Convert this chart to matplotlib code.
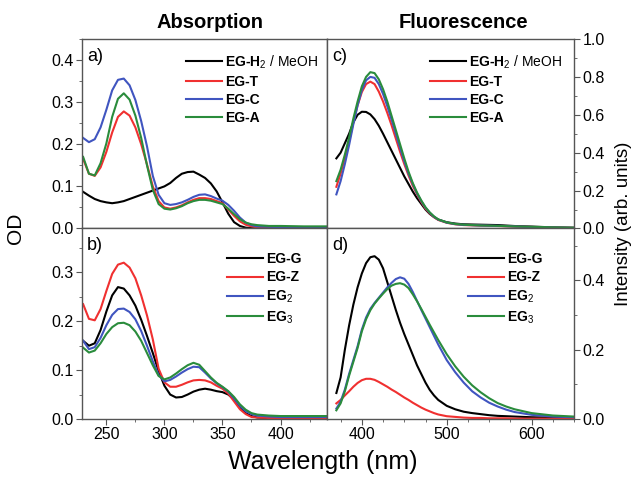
import numpy as np
import matplotlib
matplotlib.use("Agg")
import matplotlib.pyplot as plt
from matplotlib.ticker import MultipleLocator, FormatStrFormatter

plt.rcParams['font.family'] = ['Liberation Sans', 'DejaVu Sans']
plt.rcParams['mathtext.fontset'] = 'custom'
plt.rcParams['mathtext.rm'] = 'Liberation Sans'
plt.rcParams['mathtext.it'] = 'Liberation Sans:italic'
plt.rcParams['mathtext.bf'] = 'Liberation Sans:bold'

# ---- a) absorption, EG-H2 / T / C / A ----
wl_a = [230, 235, 240, 245, 250, 255, 260, 265, 270, 275, 280, 285, 290, 295, 300,
        305, 310, 315, 320, 325, 330, 335, 340, 345, 350, 355, 360, 365, 370, 375,
        380, 390, 400, 420, 440]
a_h2 = [0.087, 0.078, 0.070, 0.065, 0.062, 0.060, 0.062, 0.065, 0.070, 0.075, 0.080,
        0.085, 0.090, 0.095, 0.100, 0.108, 0.120, 0.130, 0.134, 0.135, 0.128, 0.120,
        0.107, 0.088, 0.062, 0.035, 0.015, 0.006, 0.002, 0.001, 0.0, 0.0, 0.0, 0.0, 0.0]
a_t = [0.165, 0.130, 0.125, 0.145, 0.182, 0.228, 0.265, 0.278, 0.268, 0.240, 0.200,
       0.152, 0.100, 0.065, 0.050, 0.047, 0.050, 0.055, 0.062, 0.068, 0.072, 0.072,
       0.070, 0.065, 0.060, 0.045, 0.030, 0.017, 0.009, 0.005, 0.003, 0.002, 0.002, 0.002, 0.002]
a_c = [0.215, 0.205, 0.212, 0.240, 0.282, 0.328, 0.353, 0.356, 0.340, 0.305, 0.255,
       0.195, 0.125, 0.080, 0.060, 0.056, 0.058, 0.062, 0.068, 0.075, 0.080, 0.081,
       0.077, 0.071, 0.066, 0.056, 0.042, 0.026, 0.014, 0.008, 0.005, 0.004, 0.003, 0.002, 0.002]
a_a = [0.170, 0.130, 0.126, 0.155, 0.202, 0.265, 0.308, 0.321, 0.306, 0.268, 0.215,
       0.150, 0.092, 0.058, 0.047, 0.045, 0.048, 0.053, 0.060, 0.065, 0.068, 0.068,
       0.066, 0.062, 0.058, 0.047, 0.034, 0.022, 0.014, 0.010, 0.008, 0.006, 0.006, 0.005, 0.005]

# ---- b) absorption, EG-G / Z / EG2 / EG3 ----
wl_b = wl_a
b_g = [0.160, 0.150, 0.155, 0.182, 0.220, 0.253, 0.270, 0.267, 0.253, 0.232, 0.203,
       0.170, 0.135, 0.098, 0.068, 0.050, 0.044, 0.045, 0.050, 0.056, 0.060, 0.062,
       0.060, 0.057, 0.055, 0.050, 0.040, 0.025, 0.012, 0.006, 0.003, 0.002, 0.002, 0.002, 0.002]
b_z = [0.235, 0.205, 0.202, 0.225, 0.262, 0.297, 0.316, 0.320, 0.310, 0.288, 0.253,
       0.212, 0.163, 0.103, 0.075, 0.066, 0.066, 0.070, 0.075, 0.079, 0.080, 0.079,
       0.075, 0.068, 0.062, 0.052, 0.036, 0.020, 0.010, 0.004, 0.003, 0.002, 0.002, 0.002, 0.002]
b_2 = [0.160, 0.143, 0.147, 0.166, 0.192, 0.213, 0.225, 0.226, 0.219, 0.204, 0.180,
       0.150, 0.118, 0.090, 0.077, 0.080, 0.087, 0.095, 0.102, 0.107, 0.106, 0.095,
       0.083, 0.073, 0.065, 0.056, 0.042, 0.027, 0.016, 0.010, 0.007, 0.005, 0.004, 0.004, 0.004]
b_3 = [0.146, 0.136, 0.140, 0.155, 0.174, 0.188, 0.196, 0.197, 0.192, 0.179, 0.160,
       0.135, 0.110, 0.088, 0.081, 0.085, 0.093, 0.102, 0.110, 0.115, 0.111, 0.098,
       0.085, 0.074, 0.066, 0.057, 0.045, 0.030, 0.019, 0.012, 0.009, 0.007, 0.006, 0.006, 0.006]

# ---- c) fluorescence, EG-H2 / T / C / A ----
wl_c = [370, 375, 380, 385, 390, 395, 400, 405, 410, 415, 420, 425, 430, 435, 440,
        445, 450, 455, 460, 465, 470, 475, 480, 485, 490, 500, 510, 520, 540, 560,
        580, 600, 625, 650]
c_h2 = [0.37, 0.40, 0.45, 0.50, 0.56, 0.60, 0.616, 0.615, 0.602, 0.577, 0.542, 0.500,
        0.455, 0.410, 0.365, 0.320, 0.275, 0.235, 0.195, 0.160, 0.130, 0.100, 0.077,
        0.060, 0.047, 0.033, 0.026, 0.022, 0.020, 0.018, 0.013, 0.010, 0.006, 0.004]
c_t = [0.22, 0.29, 0.37, 0.46, 0.56, 0.65, 0.72, 0.762, 0.775, 0.762, 0.722, 0.670,
       0.610, 0.545, 0.475, 0.405, 0.340, 0.280, 0.225, 0.180, 0.140, 0.105, 0.080,
       0.060, 0.045, 0.030, 0.022, 0.018, 0.015, 0.013, 0.010, 0.008, 0.005, 0.003]
c_c = [0.18, 0.25, 0.34, 0.44, 0.55, 0.65, 0.73, 0.782, 0.800, 0.795, 0.762, 0.710,
       0.645, 0.575, 0.500, 0.425, 0.355, 0.290, 0.235, 0.185, 0.145, 0.110, 0.083,
       0.062, 0.047, 0.031, 0.023, 0.019, 0.016, 0.014, 0.011, 0.008, 0.005, 0.003]
c_a = [0.25, 0.31, 0.39, 0.48, 0.58, 0.67, 0.75, 0.800, 0.825, 0.820, 0.787, 0.735,
       0.670, 0.595, 0.520, 0.445, 0.370, 0.300, 0.240, 0.190, 0.148, 0.112, 0.085,
       0.064, 0.048, 0.032, 0.024, 0.020, 0.016, 0.014, 0.011, 0.009, 0.006, 0.004]

# ---- d) fluorescence, EG-G / Z / EG2 / EG3 ----
wl_d = [370, 375, 380, 385, 390, 395, 400, 405, 410, 415, 420, 425, 430, 435, 440,
        445, 450, 455, 460, 465, 470, 475, 480, 485, 490, 500, 510, 520, 530, 540,
        550, 560, 570, 580, 600, 625, 650]
d_g = [0.075, 0.120, 0.200, 0.270, 0.330, 0.380, 0.420, 0.450, 0.467, 0.470, 0.460,
       0.435, 0.395, 0.355, 0.315, 0.278, 0.245, 0.215, 0.185, 0.155, 0.130, 0.105,
       0.084, 0.068, 0.055, 0.038, 0.028, 0.021, 0.017, 0.014, 0.011, 0.009, 0.008,
       0.007, 0.005, 0.004, 0.003]
d_z = [0.045, 0.055, 0.068, 0.080, 0.093, 0.104, 0.112, 0.116, 0.116, 0.113, 0.107,
       0.100, 0.093, 0.085, 0.078, 0.070, 0.062, 0.055, 0.047, 0.040, 0.033, 0.027,
       0.022, 0.017, 0.013, 0.008, 0.006, 0.004, 0.003, 0.003, 0.002, 0.002, 0.002,
       0.001, 0.001, 0.001, 0.001]
d_2 = [0.030, 0.050, 0.085, 0.130, 0.170, 0.210, 0.258, 0.293, 0.318, 0.335, 0.350,
       0.365, 0.380, 0.393, 0.404, 0.409, 0.405, 0.390, 0.367, 0.341, 0.315, 0.290,
       0.265, 0.240, 0.215, 0.170, 0.135, 0.105, 0.080, 0.062, 0.047, 0.036, 0.027,
       0.020, 0.012, 0.007, 0.005]
d_3 = [0.025, 0.045, 0.080, 0.125, 0.165, 0.205, 0.253, 0.288, 0.314, 0.333, 0.348,
       0.362, 0.375, 0.385, 0.390, 0.392, 0.388, 0.378, 0.360, 0.340, 0.318, 0.295,
       0.272, 0.250, 0.228, 0.187, 0.152, 0.122, 0.097, 0.077, 0.060, 0.046, 0.036,
       0.028, 0.017, 0.010, 0.007]

labels_top = ["EG-H$_2$$\\mathrm{\\ /\\ MeOH}$", "EG-T", "EG-C", "EG-A"]
labels_bot = ["EG-G", "EG-Z", "EG$_2$", "EG$_3$"]
colors = ["black", "#f03030", "#4055c0", "#2a8c3c"]
spine_col = "#555555"

fig = plt.figure(figsize=(6.36, 4.79), dpi=100)
ax_a = fig.add_axes([0.1289, 0.523, 0.3852, 0.3956])
ax_b = fig.add_axes([0.1289, 0.1253, 0.3852, 0.3977])
ax_c = fig.add_axes([0.5142, 0.523, 0.3884, 0.3956])
ax_d = fig.add_axes([0.5142, 0.1253, 0.3884, 0.3977])

panels = [
    (ax_a, wl_a, [a_h2, a_t, a_c, a_a], labels_top, "a)", (0.424, 0.925)),
    (ax_b, wl_b, [b_g, b_z, b_2, b_3], labels_bot, "b)", (0.592, 0.875)),
    (ax_c, wl_c, [c_h2, c_t, c_c, c_a], labels_top, "c)", (0.417, 0.925)),
    (ax_d, wl_d, [d_g, d_z, d_2, d_3], labels_bot, "d)", (0.571, 0.875)),
]

for ax, wl, series, labs, tag, lpos in panels:
    for y, lab, col in zip(series, labs, colors):
        ax.plot(wl, y, color=col, lw=1.5, label=lab, solid_joinstyle="round")
    ax.legend(loc="upper left", bbox_to_anchor=lpos, frameon=False,
              prop={"weight": "bold", "size": 10}, handlelength=2.6,
              handletextpad=0.2, labelspacing=0.3, borderpad=0,
              borderaxespad=0)
    ax.text(0.02, 0.955, tag, transform=ax.transAxes, fontsize=13,
            ha="left", va="top")
    for s in ax.spines.values():
        s.set_color(spine_col)
        s.set_linewidth(1.0)
    ax.tick_params(which="both", direction="out", color=spine_col,
                   labelsize=11.5, pad=2)
    ax.tick_params(which="major", length=4)
    ax.tick_params(which="minor", length=2.5)

for ax in (ax_a, ax_b):
    ax.set_xlim(229, 440)
    ax.xaxis.set_major_locator(MultipleLocator(50))
    ax.xaxis.set_minor_locator(MultipleLocator(25))
    ax.yaxis.set_major_locator(MultipleLocator(0.1))
    ax.yaxis.set_minor_locator(MultipleLocator(0.05))
    ax.yaxis.set_major_formatter(FormatStrFormatter("%.1f"))
ax_a.set_ylim(0, 0.45)
ax_b.set_ylim(0, 0.39)

for ax in (ax_c, ax_d):
    ax.set_xlim(359, 650)
    ax.xaxis.set_major_locator(MultipleLocator(100))
    ax.xaxis.set_minor_locator(MultipleLocator(25))
    ax.yaxis.set_major_locator(MultipleLocator(0.2))
    ax.yaxis.set_minor_locator(MultipleLocator(0.1))
    ax.yaxis.set_major_formatter(FormatStrFormatter("%.1f"))
    ax.yaxis.tick_right()
ax_c.set_ylim(0, 1.0)
ax_d.set_ylim(0, 0.55)

ax_a.tick_params(labelbottom=False)
ax_c.tick_params(labelbottom=False)

fig.text(0.33, 0.952, "Absorption", ha="center", va="center",
         fontsize=14.5, fontweight="bold")
fig.text(0.728, 0.952, "Fluorescence", ha="center", va="center",
         fontsize=14.5, fontweight="bold")
fig.text(0.508, 0.036, "Wavelength (nm)", ha="center", va="center", fontsize=18)
fig.text(0.024, 0.524, "OD", rotation=90, ha="center", va="center", fontsize=15)
fig.text(0.980, 0.532, "Intensity (arb. units)", rotation=90, ha="center",
         va="center", fontsize=13.5)

fig.savefig("out.png", dpi=100)
